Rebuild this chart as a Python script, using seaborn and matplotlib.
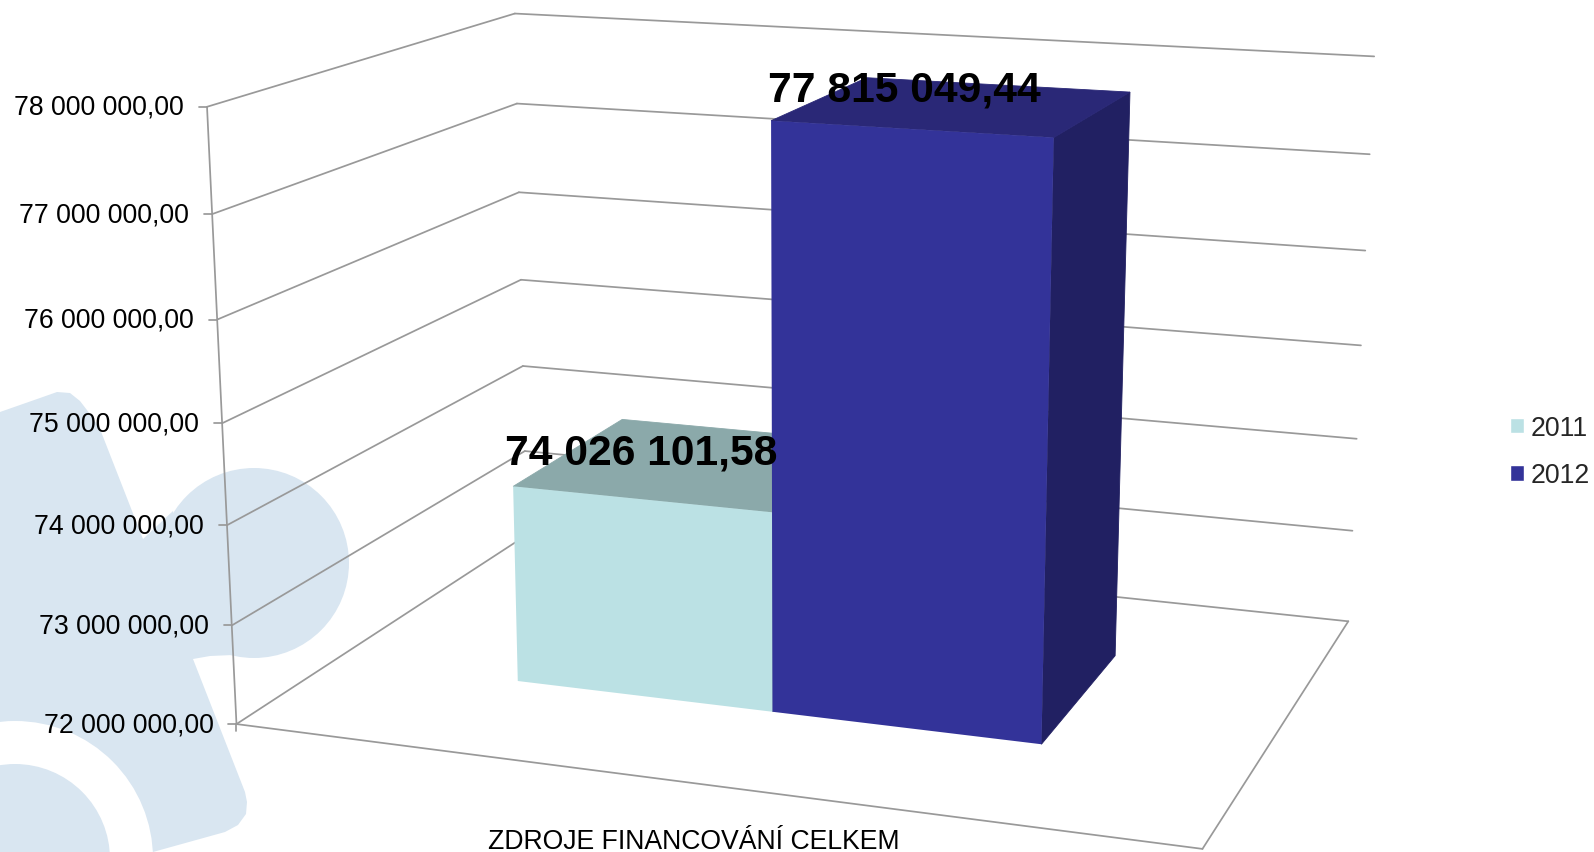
"""3D sloupcový graf: zdroje financování 2011 / 2012 (perspektiva přes projekční matici)."""
import matplotlib
matplotlib.use("Agg")
import matplotlib.pyplot as plt
import numpy as np
import pandas as pd
import seaborn as sns
from matplotlib.patches import Circle, Polygon
from matplotlib.transforms import Affine2D, Transform

W, H = 1594, 853

# ---- data ----
CATEGORY = "ZDROJE FINANCOVÁNÍ CELKEM"
YEARS = ["2011", "2012"]
VALUES = [74026101.58, 77815049.44]
VALUE_LABELS = ["74 026 101,58", "77 815 049,44"]
TICKS = [72e6, 73e6, 74e6, 75e6, 76e6, 77e6, 78e6]
TICK_LABELS = ["72 000 000,00", "73 000 000,00", "74 000 000,00", "75 000 000,00",
               "76 000 000,00", "77 000 000,00", "78 000 000,00"]
COLORS = {"2011": "#BBE1E4", "2012": "#333399"}
TOP_COLORS = {"2011": "#8BA9AA", "2012": "#2A2877"}
SIDE_COLORS = {"2011": "#8BA9AA", "2012": "#212062"}
GRID = "#999999"
LOGO = "#D9E6F1"

# ---- perspektiva: rohy boxu (x, y, z v 0..1) -> pixely obrázku ----
BOX = [((0, 0, 0), (236, 722)), ((0, 1, 0), (207, 109)), ((0, 1, 1), (515, 13)),
       ((0, 0, 1), (527, 539)), ((1, 0, 0), (1203, 852)), ((1, 0, 1), (1348, 620)),
       ((1, 1, 1), (1374, 58))]
DEPTH_FRONT, DEPTH_BACK = 0.305, 0.715
BAR_WIDTH = 0.572
CENTER = 0.4995
LABEL_OFFSET = [(0, -47), (-6, -40)]

rows = []
for (x, y, z), (u, v) in BOX:
    u, v = u / 1000, v / 1000
    rows.append([x, y, z, 1, 0, 0, 0, 0, -u * x, -u * y, -u * z, -u])
    rows.append([0, 0, 0, 0, x, y, z, 1, -v * x, -v * y, -v * z, -v])
CAM = np.linalg.svd(np.array(rows, float))[2][-1].reshape(3, 4)


def project(x, value, z):
    """kategorie x (0..1), hodnota, hloubka z -> pixely (y dolů)."""
    x, z = np.broadcast_arrays(np.asarray(x, float), np.asarray(z, float))
    y = (np.asarray(value, float) - TICKS[0]) / (TICKS[-1] - TICKS[0])
    p = np.stack([x, y * np.ones_like(x), z, np.ones_like(x)], axis=-1) @ CAM.T
    return 1000 * p[..., :2] / p[..., 2:]


px = Affine2D().scale(1, -1).translate(0, H)


class FaceTransform(Transform):
    """Datové souřadnice sloupce -> přední stěna v perspektivě."""
    input_dims = output_dims = 2

    def __init__(self, plane_z):
        super().__init__()
        self.plane_z = plane_z

    def transform_non_affine(self, values):
        values = np.asarray(values, float)
        return px.transform(project(values[:, 0] + CENTER, values[:, 1], self.plane_z))


sns.set_theme(style="white")
plt.rcParams["font.family"] = ["Liberation Sans", "DejaVu Sans"]
plt.rcParams["savefig.facecolor"] = "white"

fig = plt.figure(figsize=(W / 100, H / 100), dpi=100)
ax = fig.add_axes([0, 0, 1, 1])

df = pd.DataFrame({"cat": [CATEGORY] * 2, "rok": YEARS, "hodnota": VALUES})
sns.barplot(df, x="cat", y="hodnota", hue="rok", palette=COLORS, saturation=1,
            width=BAR_WIDTH, gap=0, ax=ax)
ax.set_xlim(-0.5, 0.5)
ax.set_ylim(TICKS[0], TICKS[-1])
ax.set_xlabel("")
ax.set_ylabel("")


def line(p, q, zorder=1, lw=1.25):
    ax.plot([p[0], q[0]], [p[1], q[1]], color=GRID, lw=lw, transform=px, zorder=zorder,
            solid_capstyle="round", clip_on=False)


# ---- vodoznak v pozadí ----
logo = [(0, 413), (40, 399), (57, 393), (70, 394), (80, 402), (90, 415), (100, 430), (143, 540),
        (173, 512), (190, 590), (233, 656), (210, 657), (193, 660), (245, 793), (247, 803), (246, 815),
        (238, 826), (225, 833), (153, 853), (0, 853)]
ax.add_patch(Polygon(logo, closed=True, fc=LOGO, ec="none", transform=px, zorder=0.1, clip_on=False))
ax.add_patch(Circle((254, 564), 95, fc=LOGO, ec="none", transform=px, zorder=0.1, clip_on=False))
ax.add_patch(Circle((15, 860), 138, fc="white", ec="none", transform=px, zorder=0.2, clip_on=False))
ax.add_patch(Circle((15, 860), 95, fc=LOGO, ec="none", transform=px, zorder=0.3, clip_on=False))

# ---- stěny a mřížka ----
for t in TICKS:
    a, b, c = project(0, t, 0), project(0, t, 1), project(1, t, 1)
    line(a, b)
    line(b, c)
    line(a - [8, 0], a)
line(project(0, TICKS[0], 0), project(1, TICKS[0], 0))
line(project(1, TICKS[0], 0), project(1, TICKS[0], 1))
line(project(0, TICKS[0], 0), project(0, TICKS[-1], 0))
line(project(0, TICKS[0], 0), project(0, TICKS[0], 0) + [0, 7])

# ---- sloupce ----
for i, (bar, year, val) in enumerate(zip(ax.containers[0].patches + ax.containers[1].patches, YEARS, VALUES)):
    bar.set_y(TICKS[0])
    bar.set_height(val - TICKS[0])
    bar.set_transform(FaceTransform(DEPTH_FRONT))
    bar.set_clip_on(False)
    bar.set_edgecolor("none")
    bar.set_linewidth(0)
    bar.set_zorder(2.2 + i)
    x0 = bar.get_x() + CENTER
    x1 = x0 + bar.get_width()
    side = [project(x1, TICKS[0], DEPTH_FRONT), project(x1, val, DEPTH_FRONT),
            project(x1, val, DEPTH_BACK), project(x1, TICKS[0], DEPTH_BACK)]
    top = [project(x0, val, DEPTH_FRONT), project(x1, val, DEPTH_FRONT),
           project(x1, val, DEPTH_BACK), project(x0, val, DEPTH_BACK)]
    # tenký okraj ve stejné barvě, aby mezi stěnami nezůstala světlá spára
    ax.add_patch(Polygon(side, fc=SIDE_COLORS[year], ec=SIDE_COLORS[year], lw=0.6, transform=px,
                         zorder=2 + i, clip_on=False))
    ax.add_patch(Polygon(top, fc=TOP_COLORS[year], ec=TOP_COLORS[year], lw=0.6, transform=px,
                         zorder=2.1 + i, clip_on=False))
    tx, ty = project((x0 + x1) / 2, val, DEPTH_FRONT)
    dx, dy = LABEL_OFFSET[i]
    ax.text(tx + dx, ty + dy, VALUE_LABELS[i], transform=px, fontsize=30.7, fontweight="bold",
            ha="center", va="center", color="black", zorder=6)

# ---- popisky ----
for t, label in zip(TICKS, TICK_LABELS):
    x, y = project(0, t, 0)
    ax.text(x - 23, y, label, transform=px, fontsize=19.2, ha="right", va="center", color="black", zorder=6)
ax.text(694, 842, CATEGORY, transform=px, fontsize=19.2, ha="center", va="center", color="black", zorder=6)

handles, labels = ax.get_legend_handles_labels()
ax.legend(handles, labels, loc="center left", bbox_to_anchor=(1510 / W, 1 - 452.5 / H),
          bbox_transform=fig.transFigure, frameon=False, fontsize=19.2, borderpad=0, borderaxespad=0,
          handlelength=0.53, handleheight=0.53, handletextpad=0.23, labelspacing=0.8)
ax.axis("off")

fig.savefig("out.png", dpi=100)
